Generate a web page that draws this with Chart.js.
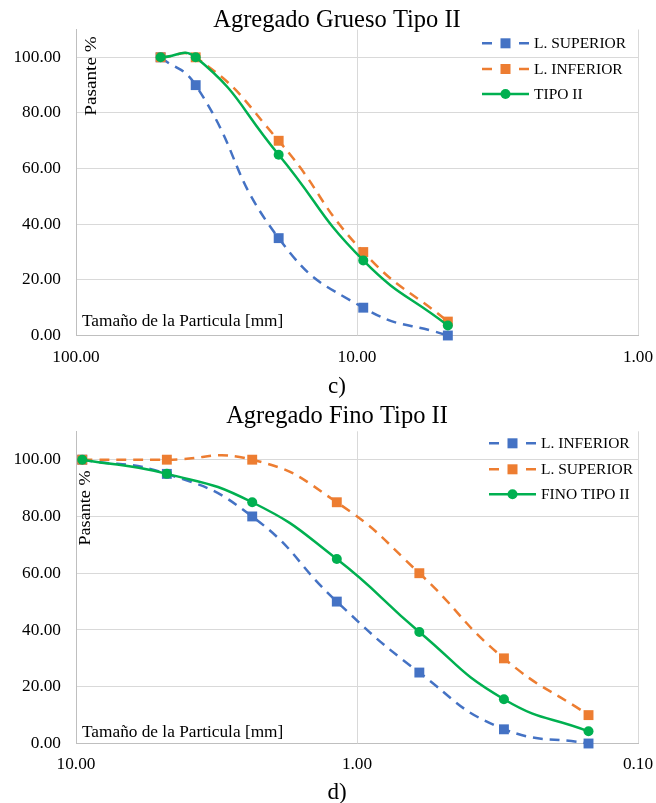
<!DOCTYPE html>
<html lang="es">
  <head>
    <meta charset="UTF-8" />
    <title>Agregado Tipo II</title>
    <script src="https://cdn.jsdelivr.net/npm/chart.js@4/dist/chart.umd.min.js"></script>
    <style>
      body { margin: 0; background: #fff; }
      #hoja { position: relative; width: 656px; height: 803px; overflow: hidden; }
      .caja { position: absolute; left: 0; width: 656px; }
      .pie {
        position: absolute; left: 307px; width: 60px; text-align: center;
        font-family: "Liberation Serif", "Times New Roman", serif;
        font-size: 23px; line-height: 23px; color: #000;
      }
    </style>
  </head>

  <body>
    <div id="hoja">
      <div class="caja" style="top:0;height:400px"><canvas id="grueso" width="656" height="400"></canvas></div>
      <div class="caja" style="top:400px;height:403px"><canvas id="fino" width="656" height="403"></canvas></div>
      <div class="pie" style="top:374px">c)</div>
      <div class="pie" style="top:780px">d)</div>
    </div>
    <script>
      // Agregado grueso (tamices en mm)
      var tamGrueso = [50, 37.5, 19, 9.5, 4.75];
      var supGrueso = [100, 90, 35, 10, 0];
      var infGrueso = [100, 100, 70, 30, 5];
      var tipoGrueso = [100, 100, 65, 27, 3.6];

      // Agregado fino
      var tamFino = [9.5, 4.75, 2.36, 1.18, 0.6, 0.3, 0.15];
      var infFino = [100, 95, 80, 50, 25, 5, 0];
      var supFino = [100, 100, 100, 85, 60, 30, 10];
      var tipoFino = [100, 95, 85, 65, 39.3, 15.6, 4.3];

      var ticksXGrueso = [1, 10, 100];
      var ticksXFino = [0.1, 1, 10];
      var ticksY = [0, 20, 40, 60, 80, 100];

      var tituloY = "Pasante %";
      var tituloX = "Tamaño de la Particula [mm]";

      var SERIF = '"Liberation Serif", "Times New Roman", serif';
      var AZUL = "#4472C4", NARANJA = "#ED7D31", VERDE = "#00B050";

      function puntos(xs, ys) {
        var data = [];
        for (var i = 0; i < xs.length; i++) data.push({ x: xs[i], y: ys[i] });
        return data;
      }

      function serie(label, xs, ys, color, punteada, orden) {
        return {
          label: label,
          data: puntos(xs, ys),
          borderColor: color,
          backgroundColor: color,
          borderWidth: 2.5,
          borderDash: punteada ? [10, 7] : [],
          tension: 0.5,
          pointStyle: punteada ? "rect" : "circle",
          pointRadius: punteada ? 7 : 5,
          pointHoverRadius: punteada ? 7 : 5,
          pointBorderWidth: 0,
          clip: false,
          order: orden,
        };
      }

      // titulo, leyenda y titulos de eje dentro del area de trazado
      var rotulos = {
        id: "rotulos",
        afterDraw: function (chart, args, o) {
          var ctx = chart.ctx;
          ctx.save();
          ctx.fillStyle = "#000";
          ctx.textBaseline = "middle";

          ctx.textAlign = "center";
          ctx.font = "24.5px " + SERIF;
          ctx.fillText(o.titulo, o.posTitulo[0], o.posTitulo[1]);

          ctx.font = "17.3px " + SERIF;
          ctx.save();
          ctx.translate(o.ejeY[0], o.ejeY[1]);
          ctx.rotate(-Math.PI / 2);
          ctx.scale(o.estirarY, 1);
          ctx.fillText(tituloY, 0, 0);
          ctx.restore();

          ctx.textAlign = "left";
          ctx.fillText(tituloX, o.ejeX[0], o.ejeX[1]);

          ctx.font = "15.5px " + SERIF;
          chart.data.datasets.forEach(function (ds, i) {
            var x = o.leyendaX, y = o.filas[i];
            ctx.strokeStyle = ds.borderColor;
            ctx.fillStyle = ds.borderColor;
            ctx.lineWidth = 2.5;
            ctx.beginPath();
            if (ds.borderDash.length) {
              ctx.moveTo(x, y); ctx.lineTo(x + 10, y);
              ctx.moveTo(x + 37, y); ctx.lineTo(x + 47, y);
            } else {
              ctx.moveTo(x, y); ctx.lineTo(x + 47, y);
            }
            ctx.stroke();
            if (ds.pointStyle === "rect") {
              ctx.fillRect(x + 18.5, y - 5, 10, 10);
            } else {
              ctx.beginPath();
              ctx.arc(x + 23.5, y, 5, 0, Math.PI * 2);
              ctx.fill();
            }
            ctx.fillStyle = "#000";
            ctx.fillText(ds.label, x + 52, y + 0.5);
          });
          ctx.restore();
        },
      };

      function opciones(xmin, xmax, ticksX, lay) {
        var fuenteEje = { family: SERIF, size: 17.3 };
        return {
          responsive: false,
          animation: false,
          events: [],
          layout: { padding: { left: 0, right: 18, top: lay.arriba, bottom: lay.abajo } },
          plugins: {
            legend: { display: false },
            tooltip: { enabled: false },
            title: { display: false },
            rotulos: lay.rotulos,
          },
          scales: {
            x: {
              type: "logarithmic",
              reverse: true,
              min: xmin,
              max: xmax,
              afterBuildTicks: function (s) {
                s.ticks = ticksX.map(function (v) { return { value: v }; });
              },
              afterFit: function (s) { s.height = 40; },
              ticks: {
                color: "#000",
                font: fuenteEje,
                padding: lay.padX,
                maxRotation: 0,
                autoSkip: false,
                callback: function (v) { return Number(v).toFixed(2); },
              },
              grid: { color: "#D9D9D9", lineWidth: 1, drawTicks: false },
              border: { color: "#BFBFBF", width: 1 },
            },
            y: {
              min: 0,
              max: 110,
              afterBuildTicks: function (s) {
                s.ticks = ticksY.map(function (v) { return { value: v }; });
              },
              afterFit: function (s) { s.width = 76; },
              ticks: {
                color: "#000",
                font: fuenteEje,
                padding: 15,
                callback: function (v) { return Number(v).toFixed(2); },
              },
              grid: { color: "#D9D9D9", lineWidth: 1, drawTicks: false },
              border: { color: "#BFBFBF", width: 1 },
            },
          },
        };
      }

      new Chart(document.getElementById("grueso"), {
        type: "line",
        data: {
          datasets: [
            serie("L. SUPERIOR", tamGrueso, supGrueso, AZUL, true, 3),
            serie("L. INFERIOR", tamGrueso, infGrueso, NARANJA, true, 2),
            serie("TIPO II", tamGrueso, tipoGrueso, VERDE, false, 1),
          ],
        },
        options: opciones(1, 100, ticksXGrueso, {
          arriba: 29.5,
          abajo: 24.5,
          padX: 11.3,
          rotulos: {
            titulo: "Agregado Grueso Tipo II", posTitulo: [337, 20.2],
            ejeY: [91, 76], estirarY: 1.11, ejeX: [82, 321],
            leyendaX: 482, filas: [43.3, 69, 94],
          },
        }),
        plugins: [rotulos],
      });

      new Chart(document.getElementById("fino"), {
        type: "line",
        data: {
          datasets: [
            serie("L. INFERIOR", tamFino, infFino, AZUL, true, 3),
            serie("L. SUPERIOR", tamFino, supFino, NARANJA, true, 2),
            serie("FINO TIPO II", tamFino, tipoFino, VERDE, false, 1),
          ],
        },
        options: opciones(0.1, 10, ticksXFino, {
          arriba: 31.3,
          abajo: 19.5,
          padX: 10.3,
          rotulos: {
            titulo: "Agregado Fino Tipo II", posTitulo: [337, 16.5],
            ejeY: [85, 108], estirarY: 1.05, ejeX: [82, 332.5],
            leyendaX: 489, filas: [43.3, 69.3, 94.3],
          },
        }),
        plugins: [rotulos],
      });
    </script>
  </body>
</html>
